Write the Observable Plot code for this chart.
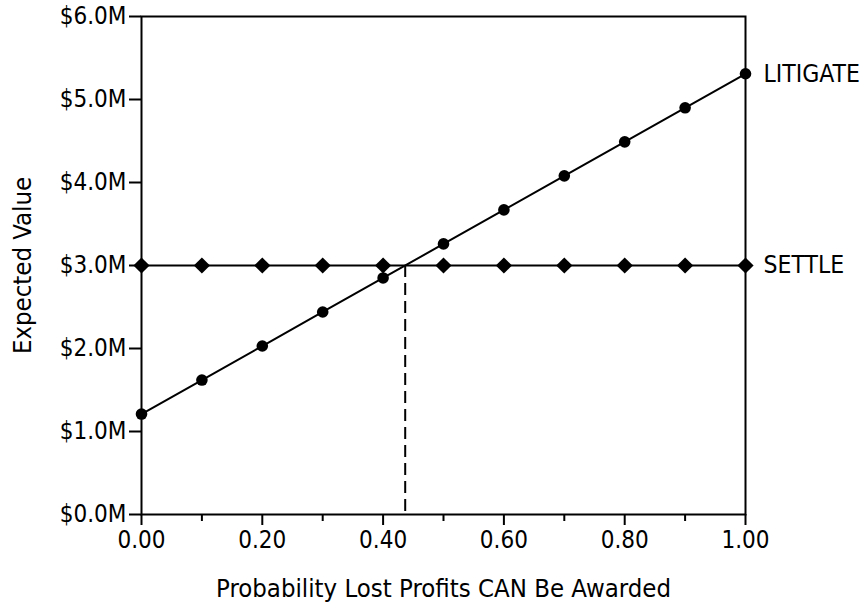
<!DOCTYPE html>
<html>
<head>
<meta charset="utf-8">
<script src="https://cdn.jsdelivr.net/npm/d3@7"></script>
<script src="https://cdn.jsdelivr.net/npm/@observablehq/plot@0.6"></script>
<style>
  html, body { margin: 0; padding: 0; background: #fff; }
  #chart svg { display: block; }
  #chart svg g[aria-label$="tick label"] text { font-size: 24px; }
</style>
</head>
<body>
<div id="chart"></div>
<script>
const probabilities = [0, 0.1, 0.2, 0.3, 0.4, 0.5, 0.6, 0.7, 0.8, 0.9, 1.0];
const litigateValues = [1.21, 1.62, 2.03, 2.44, 2.85, 3.26, 3.67, 4.08, 4.49, 4.90, 5.31];
const settleValues = [3.0, 3.0, 3.0, 3.0, 3.0, 3.0, 3.0, 3.0, 3.0, 3.0, 3.0];
const breakEven = 0.4366;
const xMajorTicks = [0, 0.2, 0.4, 0.6, 0.8, 1.0];
const xMinorTicks = [0.1, 0.3, 0.5, 0.7, 0.9];
const yTicks = [0, 1, 2, 3, 4, 5, 6];
const seriesLabels = ["LITIGATE", "SETTLE"];

const litigate = probabilities.map((p, i) => ({p, v: litigateValues[i]}));
const settle = probabilities.map((p, i) => ({p, v: settleValues[i]}));
const ends = [
  {p: 1, v: litigateValues[litigateValues.length - 1], label: seriesLabels[0]},
  {p: 1, v: settleValues[settleValues.length - 1], label: seriesLabels[1]}
];

const font = "'DejaVu Sans Condensed', 'DejaVu Sans', sans-serif";

const chart = Plot.plot({
  width: 868,
  height: 610,
  marginLeft: 141,
  marginRight: 123,
  marginTop: 16,
  marginBottom: 96,
  style: {fontFamily: font, fontSize: "24px", color: "#000", background: "#fff", fontStretch: "condensed"},
  x: {domain: [0, 1]},
  y: {domain: [0, 6]},
  marks: [
    Plot.axisX({ticks: xMinorTicks, tickSize: 7, strokeWidth: 2, text: null, label: null}),
    Plot.axisX({ticks: xMajorTicks, tickSize: 11, tickPadding: 5, strokeWidth: 2,
      tickFormat: d => d.toFixed(2), fontSize: 24, label: null}),
    Plot.axisY({ticks: yTicks, tickSize: 12, tickPadding: 3, strokeWidth: 2,
      tickFormat: d => "$" + d.toFixed(1) + "M", fontSize: 24, label: null}),
    Plot.text(["Probability Lost Profits CAN Be Awarded"], {frameAnchor: "bottom", dy: 82, fontSize: 25.5, fill: "#000"}),
    Plot.text(["Expected Value"], {frameAnchor: "left", dx: -119, rotate: -90, textAnchor: "middle", fontSize: 25.5, fill: "#000"}),
    Plot.frame({stroke: "#000", strokeWidth: 2}),
    Plot.ruleX([breakEven], {y1: 3, y2: 0, stroke: "#000", strokeWidth: 2, strokeDasharray: "12,6"}),
    Plot.line(settle, {x: "p", y: "v", stroke: "#000", strokeWidth: 2}),
    Plot.line(litigate, {x: "p", y: "v", stroke: "#000", strokeWidth: 2}),
    Plot.dot(settle, {x: "p", y: "v", symbol: "diamond2", r: 7.3, fill: "#000", stroke: "none"}),
    Plot.dot(litigate, {x: "p", y: "v", r: 5.8, fill: "#000", stroke: "none"}),
    Plot.text(ends, {x: "p", y: "v", text: "label", textAnchor: "start", dx: 18, fontSize: 24.5, fill: "#000"})
  ]
});
document.getElementById("chart").appendChild(chart);
</script>
</body>
</html>
